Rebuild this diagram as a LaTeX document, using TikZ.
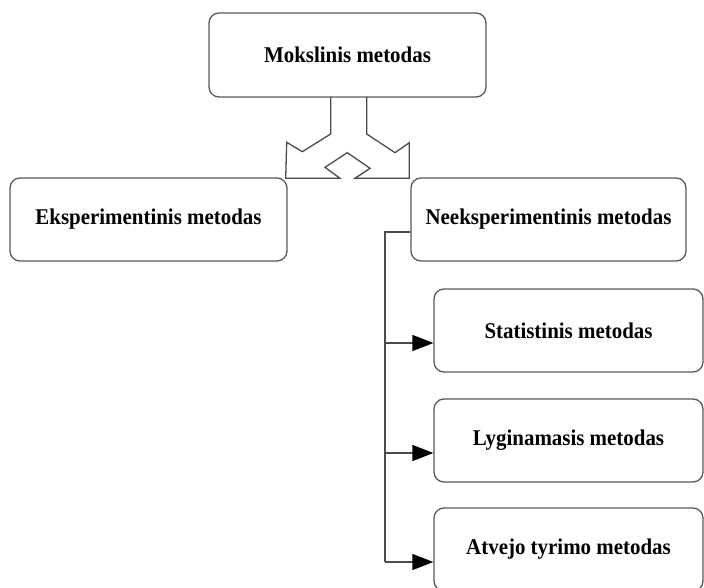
\documentclass[tikz,border=0pt]{standalone}
\usepackage{fontspec}
\setmainfont{Liberation Serif}[FakeStretch=0.93]
\usetikzlibrary{arrows.meta,calc}
\begin{document}
\begin{tikzpicture}[x=1pt,y=-1pt,
  box/.style={draw=black!65, line width=1.3pt, rounded corners=10pt, fill=white,
    inner sep=0pt, font=\fontsize{22.5}{26}\selectfont\bfseries, text=black},
  conn/.style={draw=black!70, line width=1.3pt},
  arr/.style={conn, -{Triangle[length=21pt,width=16pt,fill=black,color=black]}}]
\useasboundingbox (0,0) rectangle (704,588);
\fill[white] (0,0) rectangle (704,588);

\node[box, minimum width=277pt, minimum height=84pt] (mok) at (347.5,55) {Mokslinis metodas};
\node[box, minimum width=277pt, minimum height=83pt] (eks) at (148.5,219.5) {Eksperimentinis metodas};
\node[box, minimum width=275pt, minimum height=83pt] (neek) at (548.5,219.5) {Neeksperimentinis metodas};
\node[box, minimum width=269pt, minimum height=83pt] (stat) at (568.5,330.5) {Statistinis metodas};
\node[box, minimum width=269pt, minimum height=83pt] (lyg) at (568.5,440.5) {Lyginamasis metodas};
\node[box, minimum width=269pt, minimum height=83pt] (atv) at (568.5,549.5) {Atvejo tyrimo metodas};

% split arrow
\draw[conn, line join=miter] (330.7,97) -- (330.7,134) -- (302.3,151.7) -- (286.7,142.3)
  -- (285.7,178.3) -- (340,178.3) -- (325,167.3) -- (347.3,152.7) -- (370,168.3)
  -- (355,178.3) -- (409.3,178.3) -- (409.3,142.7) -- (395,152.7) -- (366.7,134)
  -- (366.7,97);

% tree connectors
\coordinate (tb) at (385,562);
\coordinate (na) at ($(neek.west)+(0,12.5)$);
\coordinate (sa) at ($(stat.west)+(0,12.5)$);
\coordinate (la) at ($(lyg.west)+(0,12.5)$);
\coordinate (aa) at ($(atv.west)+(0,12.5)$);
\draw[conn] (na) -| (tb);
\draw[arr] (tb |- sa) -- (sa);
\draw[arr] (tb |- la) -- (la);
\draw[arr] (tb |- aa) -- (aa);
\end{tikzpicture}
\end{document}
